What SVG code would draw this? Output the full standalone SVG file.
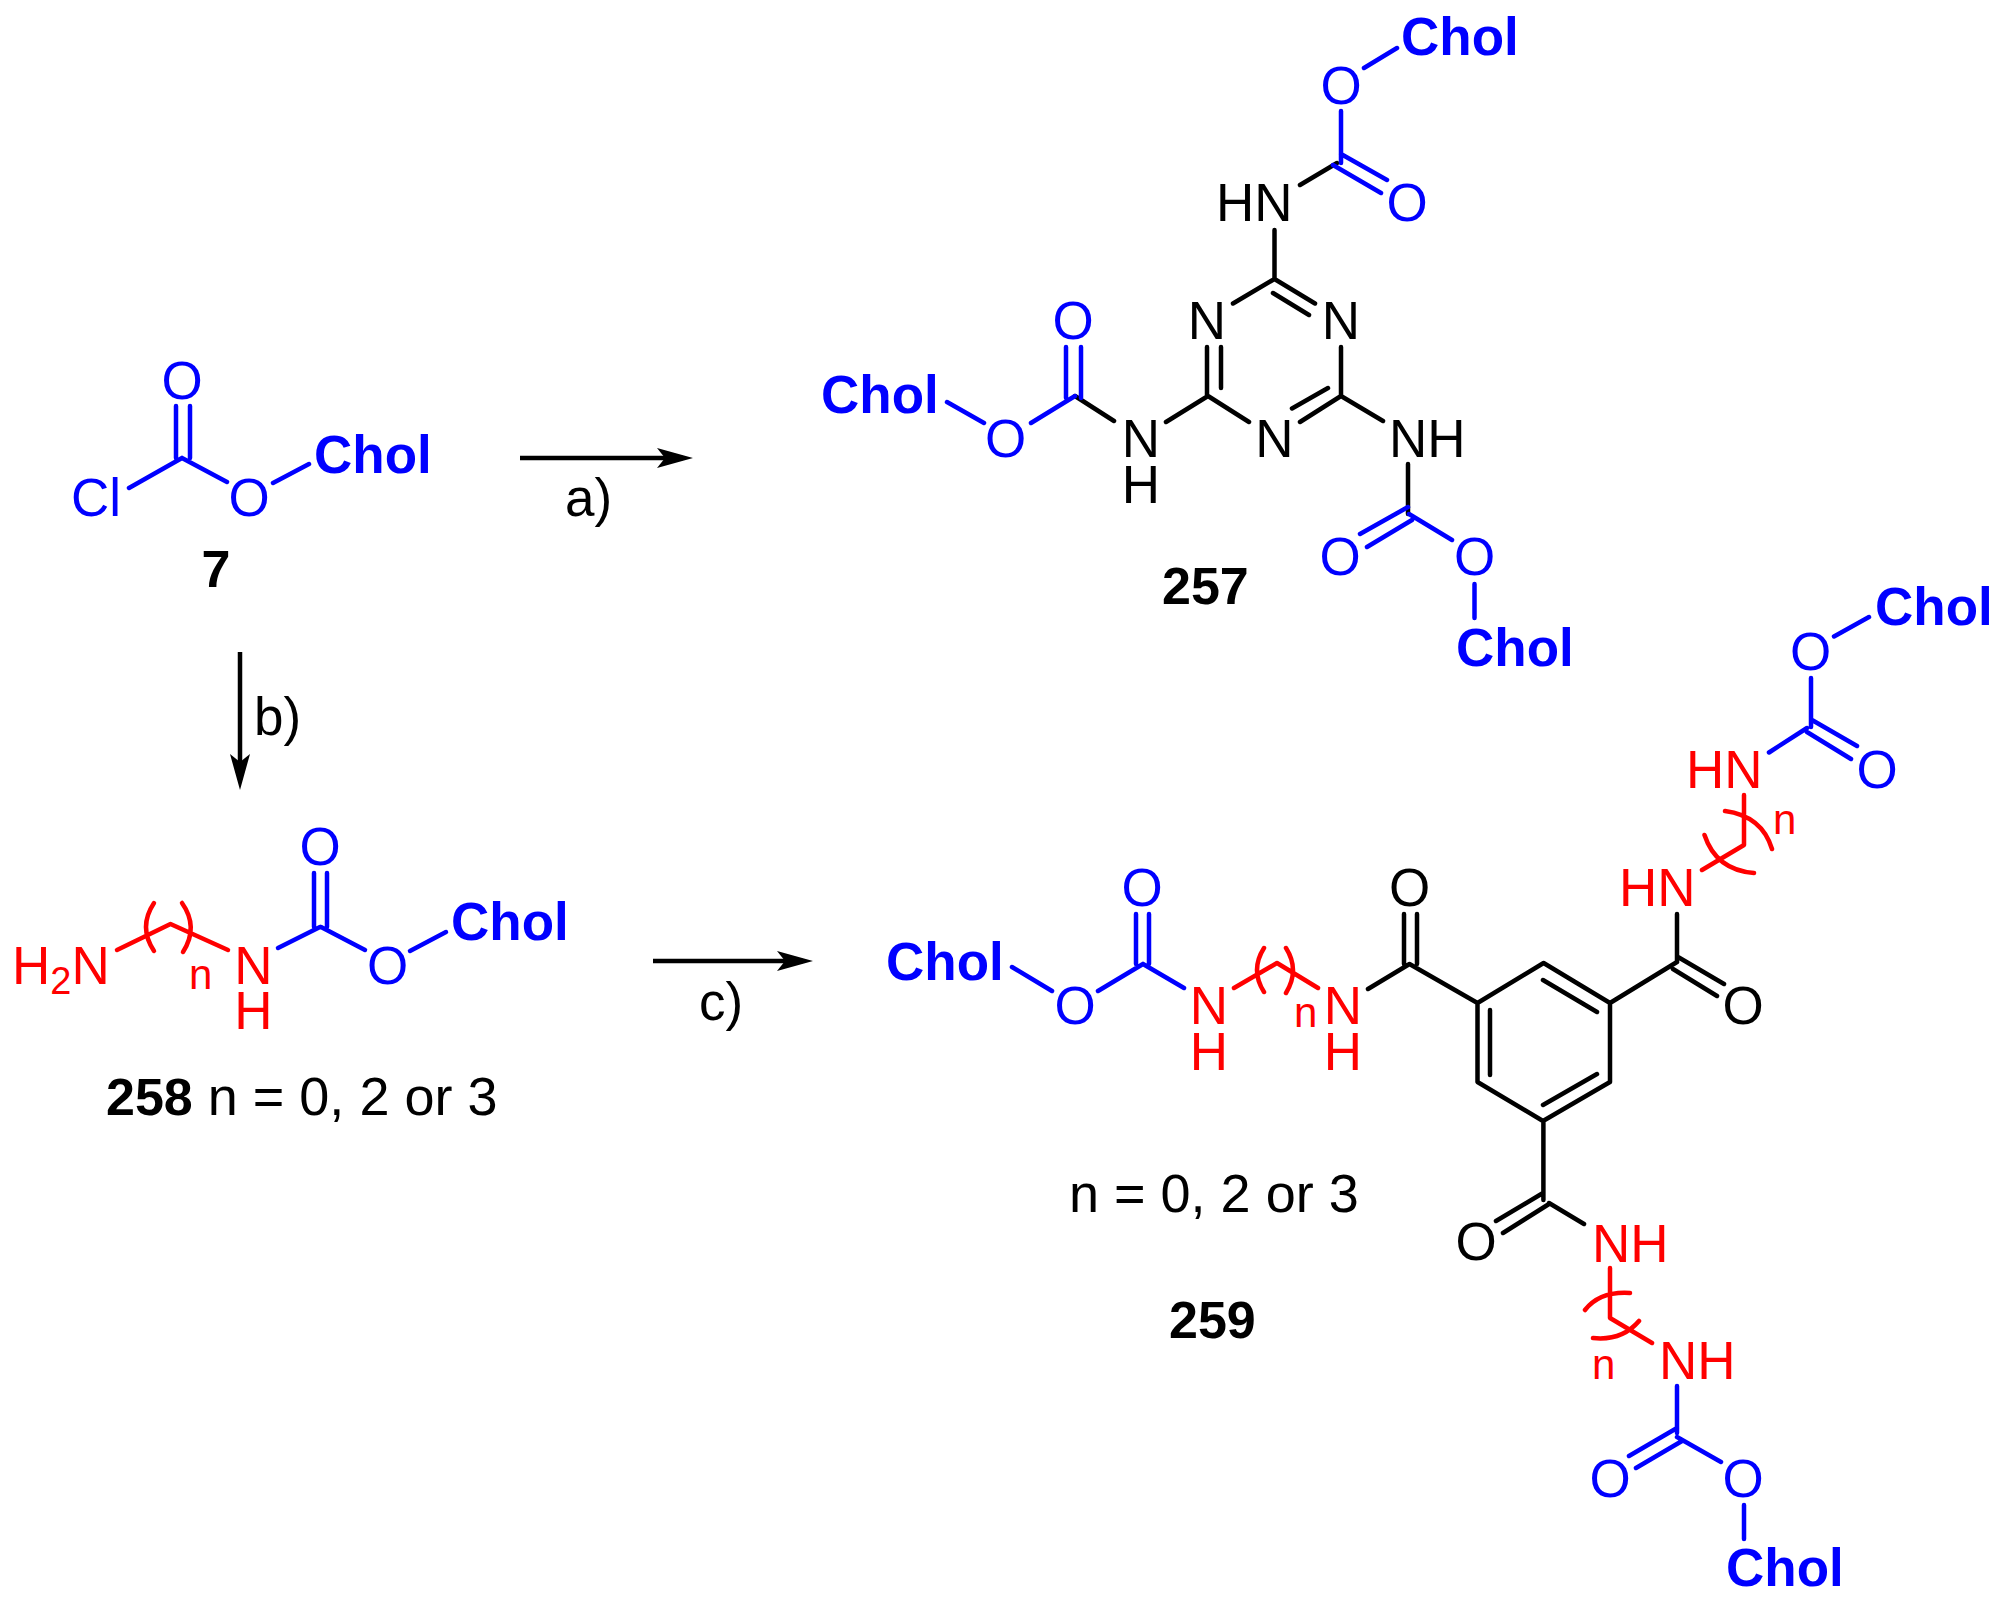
<svg xmlns="http://www.w3.org/2000/svg" width="2001" height="1603" viewBox="0 0 2001 1603">
<style>
text{font-family:"Liberation Sans",Arial,sans-serif;font-size:53px}
.m{text-anchor:middle}
.c{font-weight:700;font-size:53px;fill:#0000ff}
.l{font-weight:700;fill:#000;font-size:52px}
.k{fill:#000}.b{fill:#0000ff}.r{fill:#ff0000}
.s{font-size:42px}
.sub{font-size:38px}
g.K path{stroke:#000}g.B path{stroke:#0000ff}g.R path{stroke:#ff0000}
path{fill:none;stroke-width:4.500;stroke-linecap:round;stroke-linejoin:round}
.a{stroke:#000;stroke-width:4.500;stroke-linecap:butt}
</style>
<defs>
<marker id="head" markerUnits="userSpaceOnUse" markerWidth="40" markerHeight="24" refX="26" refY="12" orient="auto" viewBox="0 0 40 24"><path d="M0 2L36 12L0 22L8 12Z" style="fill:#000;stroke:none"/></marker>
</defs>
<rect width="2001" height="1603" fill="#fff"/>
<g id="connectors">
<path class="a" d="M520 458H683" marker-end="url(#head)"/>
<path class="a" d="M240 652V780" marker-end="url(#head)"/>
<path class="a" d="M653 961H803" marker-end="url(#head)"/>
</g>
<g id="labels">
<text class="k" x="565" y="516">a)</text>
<text class="k" x="254" y="735">b)</text>
<text class="k" x="699" y="1020">c)</text>
</g>
<g id="compound-7">
<g class="B"><path d="M176 406V458M190 406V458M182 458L129 488M182 458L227 482M273 483L309 464"/></g>
<text class="b m" x="182" y="399">O</text>
<text class="b" x="71" y="516">Cl</text>
<text class="b m" x="249" y="516">O</text>
<text class="c" x="314" y="473">Chol</text>
<text class="l m" x="216" y="587">7</text>
</g>
<g id="compound-257">
<g class="K"><path d="M1274.500 230V279L1233 303.500M1274.500 279L1315 303.500M1273 293L1309 315M1207 347V396M1221 347V388M1341 347V396M1208 396L1249 422M1341 396L1300 422M1328 388L1292 408.500M1208 396L1166 422M1075 396L1114 421M1341 396L1383 421M1337 163L1300 185M1408 464V514"/></g>
<g class="B"><path d="M1364 68L1397 48M1341 111V163M1341 154L1387 180M1333 165L1381 193M1075 396L1031 423M1066 347V398M1081 347V398M984 423L947 402M1408 507L1360 534M1412 520L1367 547M1409 514L1452 540M1474.500 584V618"/></g>
<text class="c" x="1401" y="55">Chol</text>
<text class="b m" x="1341" y="104">O</text>
<text class="b m" x="1407" y="221">O</text>
<text class="k" x="1216" y="221">HN</text>
<text class="k m" x="1207" y="339">N</text>
<text class="k m" x="1341" y="339">N</text>
<text class="k m" x="1274.500" y="457">N</text>
<text class="k m" x="1141" y="457">N</text>
<text class="k m" x="1141" y="503">H</text>
<text class="k" x="1389" y="457">NH</text>
<text class="b m" x="1073" y="339">O</text>
<text class="b m" x="1005.500" y="457">O</text>
<text class="c" x="821" y="413">Chol</text>
<text class="b m" x="1340" y="575">O</text>
<text class="b m" x="1474.500" y="575">O</text>
<text class="c" x="1456" y="666">Chol</text>
<text class="l" x="1162" y="604">257</text>
</g>
<g id="compound-258">
<g class="R"><path d="M117 950L170.500 924L228 950M154 903Q138 927 154 951M182 903Q199 927 183 952"/></g>
<g class="B"><path d="M314 873V927M327 873V927M320 927L278 948M321 927L365 950M410 951L446 932"/></g>
<text class="r" x="12" y="984">H<tspan class="sub" dy="10">2</tspan><tspan dy="-10">N</tspan></text>
<text class="r s" x="189" y="989">n</text>
<text class="r m" x="253.500" y="984">N</text>
<text class="r m" x="253.500" y="1029">H</text>
<text class="b m" x="320" y="865">O</text>
<text class="b m" x="387.500" y="984">O</text>
<text class="c" x="451" y="940">Chol</text>
<text class="k" x="106" y="1115" style="font-size:54px"><tspan class="l">258</tspan> n = 0, 2 or 3</text>
</g>
<g id="compound-259">
<g class="K"><path d="M1543.600 963L1610 1003V1082L1543 1121L1477.500 1082V1003ZM1543 980L1597 1012M1490 1010V1075M1597 1074L1543 1105M1610 1003L1677 962M1677 914V962M1678 957L1724 984M1673 969L1717 996M1477.500 1003L1409.500 964L1368 989M1404 914V964M1417 914V964M1543.400 1121V1200M1543 1193L1496 1221M1549 1204L1503 1233M1549 1203L1584 1224"/></g>
<g class="R"><path d="M1234 988L1277 963L1318 988M1264 948Q1250 970 1264 992M1286 948Q1300 970 1286 993M1744 795V845L1702 870M1725 811Q1762 816 1772 849M1704.500 835Q1716 870 1754 873M1610 1268V1318L1652 1343M1585 1310Q1600 1291 1630 1293M1593 1338Q1622 1341 1639 1321"/></g>
<g class="B"><path d="M1012 967L1052 991M1098 991L1143 964M1136 914V964M1149 914V964M1143 964L1184 988M1834 636.500L1869 617M1811 678V727M1812 720L1857 746M1807 732L1851 759M1807 728L1769 752.500M1677 1386V1433M1677 1428L1629 1456M1682 1441L1636 1468M1677 1437L1721 1462M1744 1505V1539"/></g>
<text class="c" x="886" y="980">Chol</text>
<text class="b m" x="1075" y="1024">O</text>
<text class="b m" x="1142" y="906">O</text>
<text class="r m" x="1209" y="1024">N</text>
<text class="r m" x="1209" y="1070">H</text>
<text class="r s" x="1294" y="1027">n</text>
<text class="r m" x="1343" y="1024">N</text>
<text class="r m" x="1343" y="1070">H</text>
<text class="k m" x="1409.500" y="906">O</text>
<text class="k m" x="1743" y="1024">O</text>
<text class="r" x="1619" y="906">HN</text>
<text class="r s" x="1773" y="834">n</text>
<text class="r" x="1686" y="788">HN</text>
<text class="b m" x="1877" y="788">O</text>
<text class="b m" x="1810.500" y="670">O</text>
<text class="c" x="1875" y="625">Chol</text>
<text class="k m" x="1476" y="1260">O</text>
<text class="r" x="1592" y="1262">NH</text>
<text class="r s" x="1592" y="1379">n</text>
<text class="r" x="1659" y="1379">NH</text>
<text class="b m" x="1610" y="1497">O</text>
<text class="b m" x="1743" y="1497">O</text>
<text class="c" x="1726" y="1586">Chol</text>
<text class="k" x="1069" y="1212" style="font-size:54px">n = 0, 2 or 3</text>
<text class="l" x="1169" y="1338">259</text>
</g>
</svg>
